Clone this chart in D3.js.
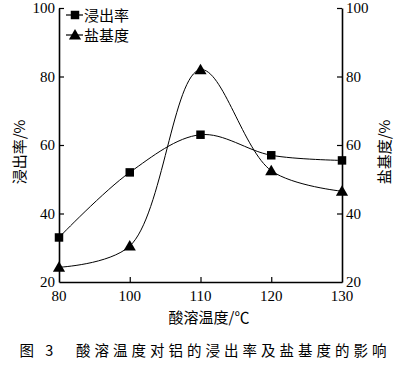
<!DOCTYPE html>
<html><head><meta charset="utf-8">
<script src="https://cdn.jsdelivr.net/npm/d3@7/dist/d3.min.js"></script>
</head>
<body style="margin:0;background:#fff"><svg id="c" width="402" height="368"></svg>
<script>
const categories = [80, 100, 110, 120, 130];
const leachRate = [33, 52, 63, 57, 55.5];      // 浸出率
const basicity = [24.3, 30.5, 82, 52.5, 46.5];  // 盐基度
const yTicks = [20, 40, 60, 80, 100];
const seriesNames = ["浸出率", "盐基度"];
const xTitle = "酸溶温度/℃";
const yLeftTitle = "浸出率/%";
const yRightTitle = "盐基度/%";
const caption = "图 3　酸溶温度对铝的浸出率及盐基度的影响";

const svg = d3.select("#c");
const L = 59, R = 342, T = 8, B = 282;
const x = d3.scalePoint().domain(categories).range([L, R]);
const y = d3.scaleLinear().domain([20, 100]).range([B, T]);
const cjk = "Noto Sans CJK SC";
const serif = "Liberation Serif";

function styleAxis(g){
  g.select(".domain").attr("stroke","#000").attr("stroke-width",1.6);
  g.selectAll(".tick line").attr("stroke","#000").attr("stroke-width",1.2);
  g.selectAll(".tick text").remove();
}
const gx = svg.append("g").attr("transform",`translate(0,${B})`)
  .call(d3.axisBottom(x).tickSizeInner(-5).tickSizeOuter(0));
styleAxis(gx);
const gl = svg.append("g").attr("transform",`translate(${L},0)`)
  .call(d3.axisLeft(y).tickValues(yTicks).tickSizeInner(-5).tickSizeOuter(0));
styleAxis(gl);
gl.selectAll(".tick line").filter(d=>d===20).remove();
const gr = svg.append("g").attr("transform",`translate(${R},0)`)
  .call(d3.axisRight(y).tickValues(yTicks).tickSizeInner(-5).tickSizeOuter(0));
styleAxis(gr);
gr.selectAll(".tick line").filter(d=>d===20).remove();
gx.selectAll(".tick line").filter((d,i)=>i===0||i===categories.length-1).remove();

// tick labels as plain text
svg.selectAll(".xl").data(categories).join("text")
  .attr("x",d=>x(d)).attr("y",B+19).attr("text-anchor","middle")
  .attr("font-family",serif).attr("font-size",15).text(d=>d);
svg.selectAll(".yl").data(yTicks).join("text")
  .attr("x",L-4).attr("y",d=>y(d)+5).attr("text-anchor","end")
  .attr("font-family",serif).attr("font-size",15).text(d=>d);
svg.selectAll(".yr").data(yTicks).join("text")
  .attr("x",R+4).attr("y",d=>y(d)+5).attr("text-anchor","start")
  .attr("font-family",serif).attr("font-size",15).text(d=>d);

const line = d3.line().x((d,i)=>x(categories[i])).y(d=>y(d)).curve(d3.curveCatmullRom.alpha(0.5));
svg.append("path").attr("d",line(leachRate)).attr("fill","none").attr("stroke","#000").attr("stroke-width",1);
svg.append("path").attr("d",line(basicity)).attr("fill","none").attr("stroke","#000").attr("stroke-width",1);

const sq = d3.symbol().type(d3.symbolSquare).size(72);
const tri = d3.symbol().type(d3.symbolTriangle).size(64);
svg.selectAll(".sq").data(leachRate).join("path")
  .attr("d",sq).attr("transform",(d,i)=>`translate(${x(categories[i])},${y(d)})`).attr("fill","#000");
svg.selectAll(".tri").data(basicity).join("path")
  .attr("d",tri).attr("transform",(d,i)=>`translate(${x(categories[i])},${y(d)+1})`).attr("fill","#000");

// legend
const lg = svg.append("g");
[sq, tri].forEach((s,i)=>{
  const yy = 15 + i*20;
  lg.append("line").attr("x1",66).attr("x2",83).attr("y1",yy).attr("y2",yy).attr("stroke","#000").attr("stroke-width",1.2);
  lg.append("path").attr("d",s).attr("transform",`translate(75,${yy+(i?1:0)})`).attr("fill","#000");
  lg.append("text").attr("x",84).attr("y",yy+5.5).attr("font-family",cjk).attr("font-size",15).text(seriesNames[i]);
});

svg.append("text").attr("x",209).attr("y",323).attr("text-anchor","middle")
  .attr("font-family",cjk).attr("font-size",15).text(xTitle);
svg.append("text").attr("transform","translate(25,152) rotate(-90)").attr("text-anchor","middle")
  .attr("font-family",cjk).attr("font-size",15).text(yLeftTitle);
svg.append("text").attr("transform","translate(390,152) rotate(-90)").attr("text-anchor","middle")
  .attr("font-family",cjk).attr("font-size",15).text(yRightTitle);
svg.append("text").attr("x",205).attr("y",356).attr("text-anchor","middle")
  .attr("font-family",cjk).attr("font-size",14.5).attr("letter-spacing",4).text(caption);
</script></body></html>
